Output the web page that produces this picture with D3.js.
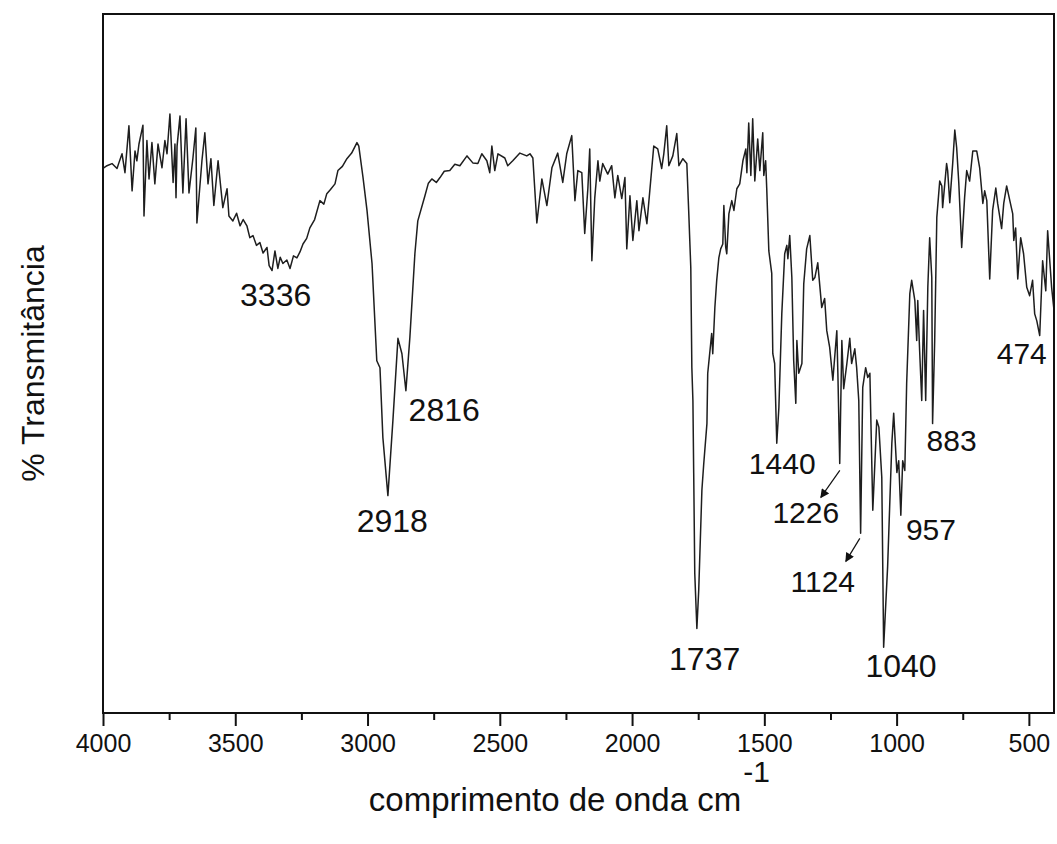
<!DOCTYPE html>
<html>
<head>
<meta charset="utf-8">
<script src="https://cdn.jsdelivr.net/npm/d3@7"></script>
<style>
  body { margin: 0; background: #fff; }
  svg { display: block; }
  text { font-family: "Liberation Sans", Arial, sans-serif; fill: #111; }
</style>
</head>
<body>
<svg id="chart" width="1057" height="844"></svg>
<script>
// FTIR spectrum: wavenumber (cm-1) and % transmittance
const wavenumber = [
  4000, 3985, 3966, 3947, 3940, 3928, 3917, 3902, 3890, 3879, 3872, 3864, 3849, 3845, 3834, 3826,
  3815, 3804, 3792, 3777, 3766, 3758, 3747, 3735, 3728, 3724, 3720, 3709, 3698, 3686, 3675, 3660,
  3649, 3645, 3626, 3615, 3603, 3592, 3581, 3565, 3547, 3531, 3524, 3509, 3495, 3482, 3470, 3456,
  3445, 3433, 3420, 3407, 3395, 3380, 3372, 3361, 3350, 3339, 3330, 3320, 3305, 3293, 3280, 3267,
  3255, 3244, 3230, 3218, 3200, 3180, 3165, 3154, 3140, 3123, 3112, 3095, 3078, 3060, 3040, 3033,
  3017, 3002, 2983, 2965, 2953, 2942, 2923, 2904, 2885, 2870, 2855, 2840, 2821, 2810, 2783, 2770,
  2757, 2740, 2726, 2710, 2689, 2670, 2651, 2624, 2602, 2583, 2568, 2549, 2538, 2530, 2519, 2507,
  2481, 2470, 2451, 2424, 2398, 2386, 2375, 2360, 2341, 2322, 2303, 2281, 2262, 2247, 2228, 2216,
  2205, 2190, 2179, 2167, 2160, 2152, 2141, 2129, 2122, 2111, 2092, 2077, 2065, 2054, 2039, 2027,
  2020, 2008, 1997, 1982, 1974, 1959, 1944, 1933, 1918, 1903, 1888, 1880, 1869, 1861, 1846, 1831,
  1823, 1808, 1793, 1786, 1778, 1774, 1770, 1767, 1763, 1755, 1748, 1736, 1729, 1717, 1714, 1699,
  1695, 1687, 1680, 1672, 1665, 1657, 1653, 1646, 1642, 1634, 1623, 1615, 1604, 1593, 1581, 1570,
  1566, 1559, 1551, 1544, 1536, 1525, 1517, 1506, 1502, 1495, 1491, 1483, 1472, 1468, 1461, 1453,
  1445, 1434, 1423, 1415, 1411, 1404, 1396, 1389, 1381, 1377, 1370, 1358, 1351, 1340, 1328, 1317,
  1309, 1298, 1283, 1272, 1264, 1253, 1241, 1226, 1222, 1215, 1207, 1200, 1188, 1177, 1170, 1158,
  1151, 1143, 1136, 1128, 1117, 1109, 1101, 1090, 1075, 1067, 1056, 1049, 1034, 1018, 1011, 999,
  992, 984, 977, 969, 962, 950, 943, 931, 924, 920, 913, 905, 898, 890, 882, 875,
  867, 864, 856, 848, 837, 829, 826, 811, 807, 799, 788, 780, 773, 765, 754, 743,
  735, 724, 712, 697, 686, 674, 667, 659, 648, 637, 625, 618, 603, 595, 584, 572,
  561, 557, 550, 542, 531, 520, 508, 497, 486, 478, 470, 459, 448, 436, 429, 414,
  406
];
const transmittance = [
  77.9, 78.3, 78.6, 77.9, 78.7, 80.0, 77.3, 84.0, 74.7, 80.4, 79.0, 81.4, 84.1, 71.1, 81.9, 76.4,
  81.6, 75.7, 81.4, 78.0, 81.9, 80.0, 85.7, 75.9, 81.4, 73.7, 81.1, 85.4, 74.4, 85.0, 74.4, 79.4,
  83.7, 70.1, 79.0, 83.0, 75.7, 79.3, 72.6, 79.0, 72.3, 75.0, 71.1, 70.4, 71.5, 69.7, 70.6, 69.7,
  68.0, 68.3, 66.9, 67.3, 65.8, 66.6, 64.0, 63.3, 66.1, 63.6, 65.2, 64.3, 64.8, 63.6, 65.4, 65.1,
  66.0, 67.1, 67.9, 69.4, 70.6, 73.3, 72.8, 74.3, 74.9, 75.7, 77.6, 78.2, 79.3, 80.1, 81.6, 81.1,
  76.6, 71.9, 64.3, 50.4, 49.4, 39.4, 31.1, 41.9, 53.6, 51.4, 46.1, 53.7, 65.7, 70.4, 74.0, 75.8,
  76.4, 75.9, 76.6, 77.5, 77.6, 78.5, 78.3, 79.7, 78.7, 78.6, 80.0, 79.0, 77.3, 81.1, 77.6, 80.0,
  79.4, 78.3, 79.0, 80.1, 79.7, 80.0, 79.4, 70.1, 76.4, 72.6, 78.0, 80.1, 75.9, 80.0, 82.6, 73.3,
  77.6, 77.3, 68.6, 75.1, 80.7, 64.7, 73.7, 79.0, 76.1, 78.6, 77.1, 78.3, 73.7, 76.9, 73.6, 76.6,
  66.4, 74.0, 67.6, 73.3, 69.0, 73.7, 70.0, 74.7, 81.1, 80.7, 77.9, 80.0, 84.0, 78.3, 79.7, 82.9,
  78.3, 79.3, 78.6, 71.9, 63.7, 49.4, 44.7, 34.3, 20.0, 12.1, 17.6, 31.9, 35.7, 41.4, 48.6, 54.3,
  51.4, 58.0, 61.9, 65.1, 66.4, 67.1, 72.6, 66.6, 65.7, 71.4, 73.3, 71.9, 75.0, 75.7, 79.0, 80.7,
  77.3, 84.4, 76.9, 85.0, 76.1, 82.1, 77.6, 83.0, 76.9, 79.0, 75.1, 66.1, 62.9, 51.4, 50.0, 38.6,
  43.7, 57.1, 65.7, 66.9, 65.0, 68.3, 62.3, 50.4, 44.3, 53.3, 48.6, 50.0, 61.4, 66.4, 68.3, 61.9,
  62.3, 64.4, 58.0, 59.3, 54.7, 52.3, 47.6, 54.7, 48.6, 35.7, 53.3, 46.4, 50.0, 53.6, 50.0, 52.1,
  49.4, 44.7, 25.7, 46.6, 49.4, 48.0, 48.6, 29.0, 41.9, 40.9, 33.7, 9.4, 20.9, 38.6, 42.9, 34.4,
  36.1, 28.3, 36.1, 34.7, 47.1, 60.0, 61.9, 59.0, 53.3, 59.0, 51.9, 44.7, 57.6, 44.7, 60.9, 68.0,
  62.3, 41.4, 53.3, 70.9, 76.1, 75.4, 72.3, 78.6, 77.6, 73.0, 78.6, 83.4, 80.9, 75.9, 66.6, 73.7,
  77.6, 76.1, 80.4, 80.4, 78.0, 72.9, 74.7, 73.3, 62.1, 71.9, 75.1, 72.9, 69.3, 72.9, 75.4, 73.3,
  71.4, 67.6, 69.4, 62.1, 68.0, 65.7, 60.9, 59.7, 61.9, 57.1, 56.1, 54.0, 64.7, 60.4, 69.0, 60.9,
  58.0
];

// Band assignments written on the spectrum
const peakLabels = [3336, 2918, 2816, 1737, 1440, 1226, 1124, 1040, 957, 883, 474];
// Bands whose label is joined to the band by an arrow
const arrowPeaks = [1226, 1124];

// Axis ticks
const majorTicks = [4000, 3500, 3000, 2500, 2000, 1500, 1000, 500];
const minorTicks = [3750, 3250, 2750, 2250, 1750, 1250, 750];

const xTitle = "comprimento de onda cm";
const xTitleSup = "-1";
const yTitle = "% Transmitância";

// ---------- layout ----------
const plot = { left: 103, right: 1054, top: 14, bottom: 713 };

// Label placement relative to each band minimum (pixels)
const labelLayout = {
  3336: { dx: -3, dy: 35, size: 32 },
  2918: { dx: 3, dy: 36, size: 32 },
  2816: { dx: 28, dy: 30, size: 32 },
  1737: { dx: 3, dy: 42, size: 32 },
  1440: { dx: 2, dy: 31, size: 30 },
  1226: { dx: -31, dy: 60, size: 30, arrow: [3, 7, -16, 34] },
  1124: { dx: -41, dy: 59, size: 30, arrow: [-4, 5, -18, 28] },
  1040: { dx: 15, dy: 30, size: 32 },
  957:  { dx: 23, dy: 25, size: 30 },
  883:  { dx: 24, dy: 27, size: 30 },
  474:  { dx: -14, dy: 28, size: 30 }
};

const svg = d3.select("#chart");

const x = d3.scaleLinear().domain([4000, 405]).range([plot.left, plot.right]);
const y = d3.scaleLinear().domain([0, 100]).range([plot.bottom, plot.top]);

const spectrum = wavenumber.map((w, i) => ({ w, t: transmittance[i] }));

// arrow head marker
svg.append("defs").append("marker")
  .attr("id", "arrowHead")
  .attr("viewBox", "0 0 10 10")
  .attr("refX", 9).attr("refY", 5)
  .attr("markerWidth", 11).attr("markerHeight", 9)
  .attr("markerUnits", "userSpaceOnUse")
  .attr("orient", "auto")
  .append("path")
  .attr("d", "M0,0 L10,5 L0,10 z")
  .attr("fill", "#111");

// clip the trace to the frame
svg.append("clipPath").attr("id", "plotClip")
  .append("rect")
  .attr("x", plot.left).attr("y", plot.top)
  .attr("width", plot.right - plot.left).attr("height", plot.bottom - plot.top);

// spectrum trace
const line = d3.line()
  .x(d => x(d.w))
  .y(d => y(d.t));

svg.append("path")
  .datum(spectrum)
  .attr("clip-path", "url(#plotClip)")
  .attr("fill", "none")
  .attr("stroke", "#1e1e1e")
  .attr("stroke-width", 1.5)
  .attr("stroke-linejoin", "round")
  .attr("d", line);

// bottom axis with major and minor ticks
const axisMajor = d3.axisBottom(x)
  .tickValues(majorTicks)
  .tickFormat(d3.format("d"))
  .tickSize(13)
  .tickPadding(8);

const gx = svg.append("g")
  .attr("transform", `translate(0,${plot.bottom})`)
  .call(axisMajor);
gx.select(".domain").remove();
gx.selectAll(".tick line").attr("stroke", "#111").attr("stroke-width", 2);
gx.selectAll(".tick text")
  .attr("font-size", 25)
  .attr("font-family", "'Liberation Sans', Arial, sans-serif")
  .attr("fill", "#111");

const axisMinor = d3.axisBottom(x)
  .tickValues(minorTicks)
  .tickFormat("")
  .tickSize(7);
const gxm = svg.append("g")
  .attr("transform", `translate(0,${plot.bottom})`)
  .call(axisMinor);
gxm.select(".domain").remove();
gxm.selectAll(".tick line").attr("stroke", "#111").attr("stroke-width", 2);

// frame
svg.append("rect")
  .attr("x", plot.left).attr("y", plot.top)
  .attr("width", plot.right - plot.left)
  .attr("height", plot.bottom - plot.top)
  .attr("fill", "none")
  .attr("stroke", "#111")
  .attr("stroke-width", 2);

// band labels, anchored at the local minimum of the trace near each band
function localMin(w) {
  const near = spectrum.filter(d => Math.abs(d.w - w) <= 40);
  return d3.min(near, d => d.t);
}

peakLabels.forEach(p => {
  const L = labelLayout[p];
  const ax = x(p);
  const ay = y(localMin(p));
  svg.append("text")
    .attr("x", ax + L.dx)
    .attr("y", ay + L.dy)
    .attr("text-anchor", "middle")
    .attr("font-size", L.size)
    .text(p);
  if (arrowPeaks.includes(p)) {
    const a = L.arrow;
    svg.append("line")
      .attr("x1", ax + a[0]).attr("y1", ay + a[1])
      .attr("x2", ax + a[2]).attr("y2", ay + a[3])
      .attr("stroke", "#111")
      .attr("stroke-width", 1.2)
      .attr("marker-end", "url(#arrowHead)");
  }
});

// axis titles
const xt = svg.append("text")
  .attr("x", 555)
  .attr("y", 811)
  .attr("text-anchor", "middle")
  .attr("font-size", 33)
  .text(xTitle);
const sup = svg.append("text")
  .attr("font-size", 30)
  .text(xTitleSup);

// superscript follows the end of the title text
const bb = xt.node().getBBox();
sup.attr("x", bb.x + bb.width + 2).attr("y", 782);

svg.append("text")
  .attr("transform", `translate(44,${(plot.top + plot.bottom) / 2}) rotate(-90)`)
  .attr("text-anchor", "middle")
  .attr("font-size", 32)
  .text(yTitle);
</script>
</body>
</html>
